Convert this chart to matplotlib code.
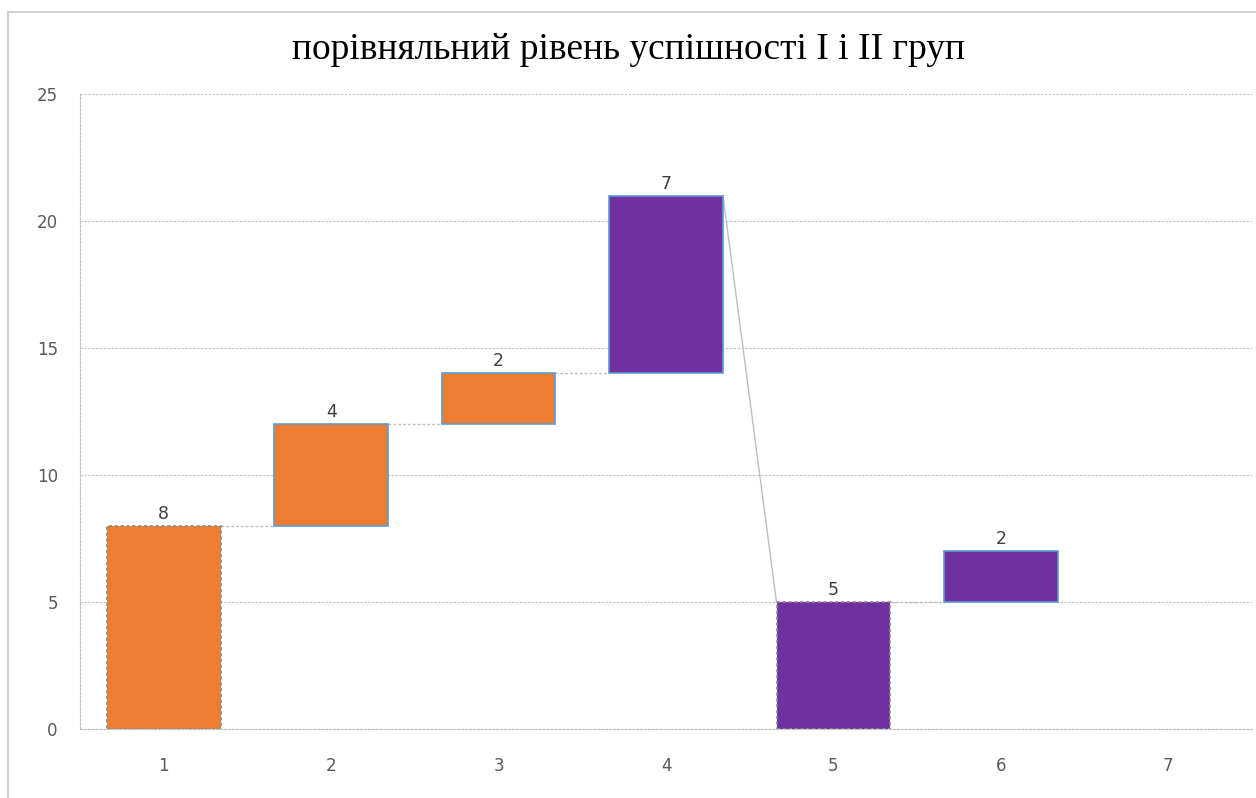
import matplotlib
matplotlib.use("Agg")
import matplotlib.pyplot as plt
from matplotlib.patches import Rectangle

# waterfall data: category, step value, bar base, whether the bar starts a new total
cats = ["1", "2", "3", "4", "5", "6", "7"]
steps = [8, 4, 2, 7, 5, 2]
bases = [0, 8, 12, 14, 0, 5]
totals = [True, False, False, False, True, False]
colors = ["#ED7D31", "#ED7D31", "#ED7D31", "#7030A0", "#7030A0", "#7030A0"]
title = "порівняльний рівень успішності I і II груп"

W = 0.68
fig = plt.figure(figsize=(12.56, 7.98), dpi=100)
ax = fig.add_axes([80/1256, 1-729/798, (1252-80)/1256, (729-94)/798])

x = list(range(1, len(cats) + 1))
for i, (v, b, t, c) in enumerate(zip(steps, bases, totals, colors)):
    ec = "#8C8C8C" if t else "#5B9BD5"
    ls = (0, (2, 1.5)) if t else "-"
    ax.bar(x[i], v, bottom=b, width=W, color=c, edgecolor=ec, linewidth=1.2,
           linestyle=ls, zorder=3)
    ax.text(x[i], b + v + 0.12, str(v), ha="center", va="bottom",
            fontsize=12.5, color="#404040", zorder=4)

# connector lines from the end of each bar to the start of the next
for i in range(len(steps) - 1):
    y0 = bases[i] + steps[i]
    y1 = bases[i+1] + steps[i+1] if totals[i+1] else bases[i+1]
    ls = (0, (2, 1.5)) if y0 == y1 else "-"
    ax.plot([x[i] + W/2, x[i+1] - W/2], [y0, y1], color="#BFBFBF",
            linewidth=1.0, linestyle=ls, zorder=2)

ax.set_xlim(0.5, len(cats) + 0.5)
ax.set_ylim(0, 25)
ax.set_yticks(range(0, 26, 5))
ax.set_xticks(x)
ax.set_xticklabels(cats)
ax.tick_params(length=0, labelsize=12, colors="#595959")
ax.tick_params(axis="x", pad=20)
ax.tick_params(axis="y", pad=16)
ax.grid(axis="y", color="#BFBFBF", linestyle=(0, (2, 1.5)), linewidth=0.8, zorder=0)
for s in ["top", "right"]:
    ax.spines[s].set_visible(False)
for s in ["left", "bottom"]:
    ax.spines[s].set_color("#BFBFBF")
    ax.spines[s].set_linestyle((0, (2, 1.5)))
    ax.spines[s].set_linewidth(0.8)

fig.text(0.5, 1 - 50/798, title, ha="center", va="center", fontsize=27,
         family="Liberation Serif", color="#000000")

# outer chart frame
fig.patches.append(Rectangle((8/1256, -0.01), 1.02, 1 - 12/798 + 0.01,
                             transform=fig.transFigure, fill=False,
                             edgecolor="#D0D0D0", linewidth=1.5))

fig.savefig("out.png", dpi=100)
